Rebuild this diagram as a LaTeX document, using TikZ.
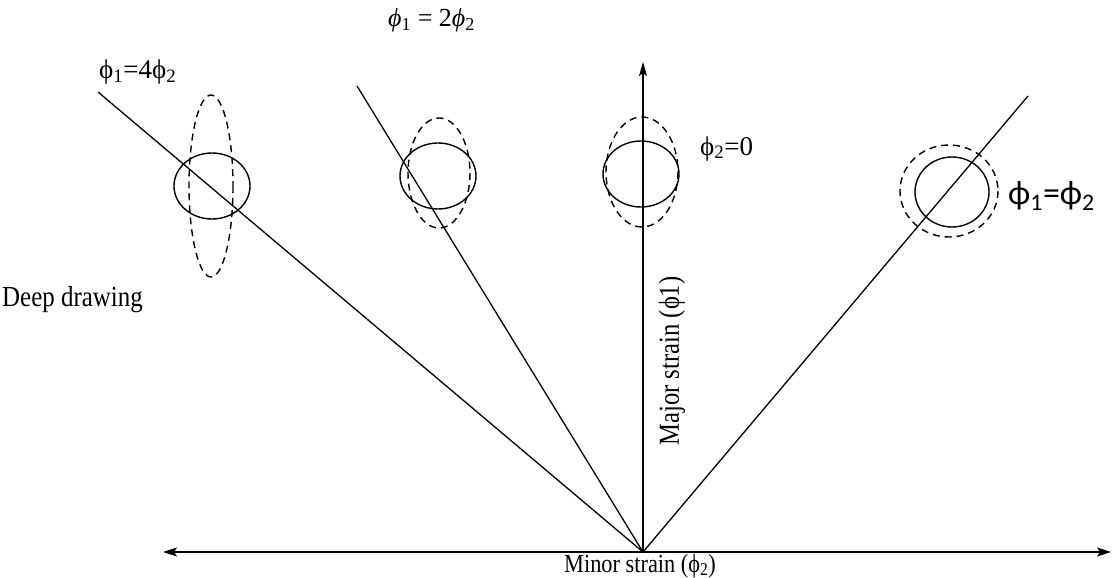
\documentclass[tikz,border=0pt]{standalone}
\usepackage{fontspec}
\setmainfont{Liberation Serif}
\newfontfamily\calib{Carlito}
\usetikzlibrary{arrows.meta}

\newcommand{\narrow}[2]{\scalebox{#1}[1]{#2}}

\begin{document}
\begin{tikzpicture}[
    x=1pt,y=-1pt,
    ray/.style={line width=1.3pt},
    axis/.style={{Stealth[length=14pt,width=9pt,inset=3pt]}-{Stealth[length=14pt,width=9pt,inset=3pt]},line width=1.6pt},
    upaxis/.style={-{Stealth[length=14pt,width=8pt,inset=3pt]},line width=1.4pt},
    solid ell/.style={line width=1.4pt},
    dash ell/.style={line width=1.4pt,dash pattern=on 7pt off 5pt},
    lbl/.style={inner sep=0pt,font=\fontsize{27}{29}\selectfont},
    big/.style={inner sep=0pt,font=\fontsize{29}{31}\selectfont}
  ]
    \useasboundingbox (0,0) rectangle (1112,578);

    % axes and strain paths
    \coordinate (o) at (643,552);
    \coordinate (xl) at (163,552);
    \coordinate (xr) at (1111,552);
    \coordinate (yt) at (643,62);
    \coordinate (p4) at (98,92);
    \coordinate (p2) at (357,86);
    \coordinate (p1) at (1028,96);

    \draw[axis] (xl) -- (xr);
    \draw[upaxis] (o) -- (yt);
    \draw[ray] (p4) -- (o);
    \draw[ray] (p2) -- (o);
    \draw[ray] (p1) -- (o);

    % grid circles before / after
    \draw[solid ell] (212,186) ellipse [x radius=38, y radius=33];
    \draw[dash ell] (211,186) ellipse [x radius=22, y radius=91];
    \draw[solid ell] (438,176) ellipse [x radius=38, y radius=33];
    \draw[dash ell] (439,173) ellipse [x radius=31, y radius=55];
    \draw[solid ell] (641,174) ellipse [x radius=38, y radius=33];
    \draw[dash ell] (642,172) ellipse [x radius=36, y radius=55];
    \draw[solid ell] (952,192) ellipse [x radius=37, y radius=35];
    \draw[dash ell] (949,191) ellipse [x radius=49, y radius=46];

    % labels
    \node[lbl,anchor=base west] (l4) at (99,79) {ϕ\textsubscript{1}=4ϕ\textsubscript{2}};
    \node[lbl,anchor=base west,font=\fontsize{26}{28}\selectfont] (l2) at (388,27) {\textit{ϕ}\textsubscript{1} = 2\textit{ϕ}\textsubscript{2}};
    \node[lbl,anchor=base west] (l0) at (700,155) {ϕ\textsubscript{2}=0};
    \node[lbl,anchor=west,font=\calib\fontsize{34}{36}\selectfont] (l1) at (1008,196) {ϕ\textsubscript{1}=ϕ\textsubscript{2}};
    \node[big,anchor=base west] (deep) at (2,306) {\narrow{0.86}{Deep drawing}};
    \node[big,rotate=90] (major) at (672,361) {\narrow{0.85}{Major strain (ϕ1)}};
    \node[big,anchor=base,font=\fontsize{26}{28}\selectfont] (minor) at (640,572) {\narrow{0.86}{Minor strain (ϕ\textsubscript{2})}};
\end{tikzpicture}
\end{document}
